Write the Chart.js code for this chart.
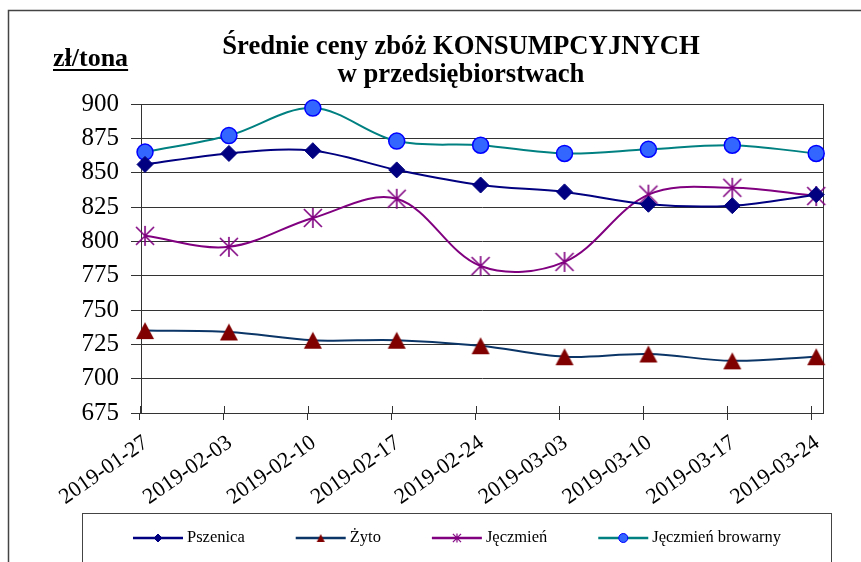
<!DOCTYPE html>
<html>
<head>
<meta charset="utf-8">
<script src="https://cdn.jsdelivr.net/npm/chart.js@4.4.1/dist/chart.umd.min.js"></script>
<style>
  html, body { margin: 0; padding: 0; background: #fff; }
  #wrap { width: 861px; height: 562px; }
</style>
</head>
<body>
<div id="wrap"><canvas id="chart" width="861" height="562"></canvas></div>
<script>
// Dane
const categories = ["2019-01-27", "2019-02-03", "2019-02-10", "2019-02-17", "2019-02-24", "2019-03-03", "2019-03-10", "2019-03-17", "2019-03-24"];
const pszenica = [856, 864, 866, 852, 841, 836, 827, 826, 834];
const zyto = [735, 734, 728, 728, 724, 716, 718, 713, 716];
const jeczmien = [804, 796, 817, 831, 782, 785, 834, 839, 833];
const jeczmienBrowarny = [865, 877, 897, 873, 870, 864, 867, 870, 864];
const seriesNames = ["Pszenica", "Żyto", "Jęczmień", "Jęczmień browarny"];
const yTicks = [675, 700, 725, 750, 775, 800, 825, 850, 875, 900];

const SERIF = "Liberation Serif";
Chart.defaults.font.family = SERIF;

// Excel-like asterisk marker (X + vertical bar)
function asterisk(r, color, lw) {
    const s = Math.ceil(2 * r + lw * 2);
    const c = document.createElement("canvas");
    c.width = s; c.height = s;
    const g = c.getContext("2d");
    const m = s / 2, d = r * 0.9;
    g.strokeStyle = color;
    g.lineWidth = lw;
    g.beginPath();
    g.moveTo(m - d, m - d); g.lineTo(m + d, m + d);
    g.moveTo(m + d, m - d); g.lineTo(m - d, m + d);
    g.moveTo(m, m - r); g.lineTo(m, m + r);
    g.stroke();
    return c;
}

// triangle centred on its bounding box, like Excel draws it
function triangle(w, h, color) {
    const c = document.createElement("canvas");
    c.width = w + 2; c.height = h + 2;
    const g = c.getContext("2d");
    g.fillStyle = color;
    g.beginPath();
    g.moveTo(1 + w / 2, 1); g.lineTo(1 + w, 1 + h); g.lineTo(1, 1 + h);
    g.closePath();
    g.fill();
    return c;
}

const toXY = (arr) => arr.map((v, i) => ({ x: i, y: v }));

const datasets = [
    { label: seriesNames[0], data: toXY(pszenica), borderColor: "#000080", backgroundColor: "#000080",
      pointStyle: "rectRot", pointRadius: 8, pointBorderWidth: 1, legendRadius: 4 },
    { label: seriesNames[1], data: toXY(zyto), borderColor: "#0a3566", backgroundColor: "#800000",
      pointBorderColor: "#800000", pointStyle: triangle(18, 17, "#800000"), legendStyle: triangle(8, 8, "#800000"), pointRadius: 10 },
    { label: seriesNames[2], data: toXY(jeczmien), borderColor: "#800080", backgroundColor: "#800080",
      pointStyle: asterisk(10, "#800080", 1.6), legendStyle: asterisk(4.5, "#800080", 1.2), pointRadius: 10 },
    { label: seriesNames[3], data: toXY(jeczmienBrowarny), borderColor: "#008080", backgroundColor: "#3366ff",
      pointBorderColor: "#0000ff", pointStyle: "circle", pointRadius: 8, pointBorderWidth: 1.5, legendRadius: 4.5 }
].map(d => Object.assign({ borderWidth: 2, tension: 0.35, clip: false, pointHoverRadius: d.pointRadius }, d));

// Frame, title, unit label, legend
const decorations = {
    id: "decorations",
    beforeDraw(chart) {
        const ctx = chart.ctx;
        ctx.save();
        ctx.fillStyle = "#fff";
        ctx.fillRect(0, 0, chart.width, chart.height);
        ctx.strokeStyle = "#444";
        ctx.lineWidth = 1.5;
        ctx.strokeRect(8.5, 10.5, chart.width + 10, chart.height + 10);
        ctx.restore();
    },
    beforeDatasetsDraw(chart) {
        const ctx = chart.ctx, a = chart.chartArea, xs = chart.scales.x;
        ctx.save();
        ctx.strokeStyle = "#333";
        ctx.lineWidth = 1;
        ctx.strokeRect(Math.round(a.left) + 0.5, Math.round(a.top) + 0.5, Math.round(a.right - a.left), Math.round(a.bottom - a.top));
        ctx.beginPath();
        xs.ticks.forEach(t => {
            const px = Math.round(xs.getPixelForValue(t.value)) + 0.5;
            ctx.moveTo(px, a.bottom - 7);
            ctx.lineTo(px, a.bottom);
        });
        ctx.stroke();
        ctx.restore();
    },
    afterDraw(chart) {
        const ctx = chart.ctx;
        ctx.save();
        ctx.fillStyle = "#000";
        ctx.textAlign = "center";
        ctx.textBaseline = "alphabetic";
        ctx.font = `bold 26.7px ${SERIF}`;
        ctx.fillText("Średnie ceny zbóż KONSUMPCYJNYCH", 461, 54);
        ctx.fillText("w przedsiębiorstwach", 461, 82);

        ctx.font = `bold 26px ${SERIF}`;
        ctx.textAlign = "left";
        ctx.fillText("zł/tona", 53, 66);
        const w = ctx.measureText("zł/tona").width;
        ctx.fillRect(53, 69, w, 2);

        // Legend box
        ctx.strokeStyle = "#444";
        ctx.lineWidth = 1;
        ctx.strokeRect(82.5, 513.5, 749, 80);

        ctx.font = `16.5px ${SERIF}`;
        ctx.textBaseline = "middle";
        const lineLen = 50, gap = 4, itemGap = 51, ly = 538;
        const widths = chart.data.datasets.map(d => lineLen + gap + ctx.measureText(d.label).width);
        const total = widths.reduce((s, v) => s + v, 0) + itemGap * (widths.length - 1);
        let x = 457 - total / 2;
        chart.data.datasets.forEach((d, i) => {
            ctx.strokeStyle = d.borderColor;
            ctx.lineWidth = 2.5;
            ctx.beginPath();
            ctx.moveTo(x, ly); ctx.lineTo(x + lineLen, ly);
            ctx.stroke();
            ctx.fillStyle = d.backgroundColor;
            ctx.strokeStyle = d.pointBorderColor || d.borderColor;
            ctx.lineWidth = 1;
            Chart.helpers.drawPoint(ctx, {
                pointStyle: d.legendStyle || d.pointStyle,
                radius: d.legendRadius || 4, rotation: 0, borderWidth: 1
            }, x + lineLen / 2, ly);
            ctx.fillStyle = "#000";
            ctx.fillText(d.label, x + lineLen + gap, ly);
            x += widths[i] + itemGap;
        });
        ctx.restore();
    }
};

new Chart(document.getElementById("chart"), {
    type: "line",
    data: { datasets },
    options: {
        responsive: false,
        animation: false,
        layout: { padding: { top: 104, right: 38, left: 0, bottom: 0 } },
        plugins: { legend: { display: false }, title: { display: false }, tooltip: { enabled: false } },
        scales: {
            x: {
                type: "linear",
                min: -0.048,
                max: 8.081,
                afterBuildTicks: (s) => { s.ticks = categories.map((c, i) => ({ value: i - 0.06 })); },
                afterFit: (s) => { s.height = 149; },
                grid: { drawOnChartArea: false, drawTicks: true, tickLength: 7, color: "#333" },
                border: { display: true, color: "#333" },
                ticks: {
                    autoSkip: false,
                    minRotation: 35,
                    maxRotation: 35,
                    padding: 10,
                    labelOffset: 6,
                    color: "#000",
                    font: { family: SERIF, size: 22 },
                    callback: (v, i) => categories[i]
                }
            },
            y: {
                min: 675,
                max: 900,
                afterBuildTicks: (s) => { s.ticks = yTicks.map(v => ({ value: v })); },
                afterFit: (s) => { s.width = 141; },
                grid: { color: "#333", lineWidth: 1, drawTicks: true, tickLength: 10 },
                border: { display: true, color: "#333" },
                ticks: { padding: 12, color: "#000", font: { family: SERIF, size: 25 } }
            }
        }
    },
    plugins: [decorations]
});
</script>
</body>
</html>
